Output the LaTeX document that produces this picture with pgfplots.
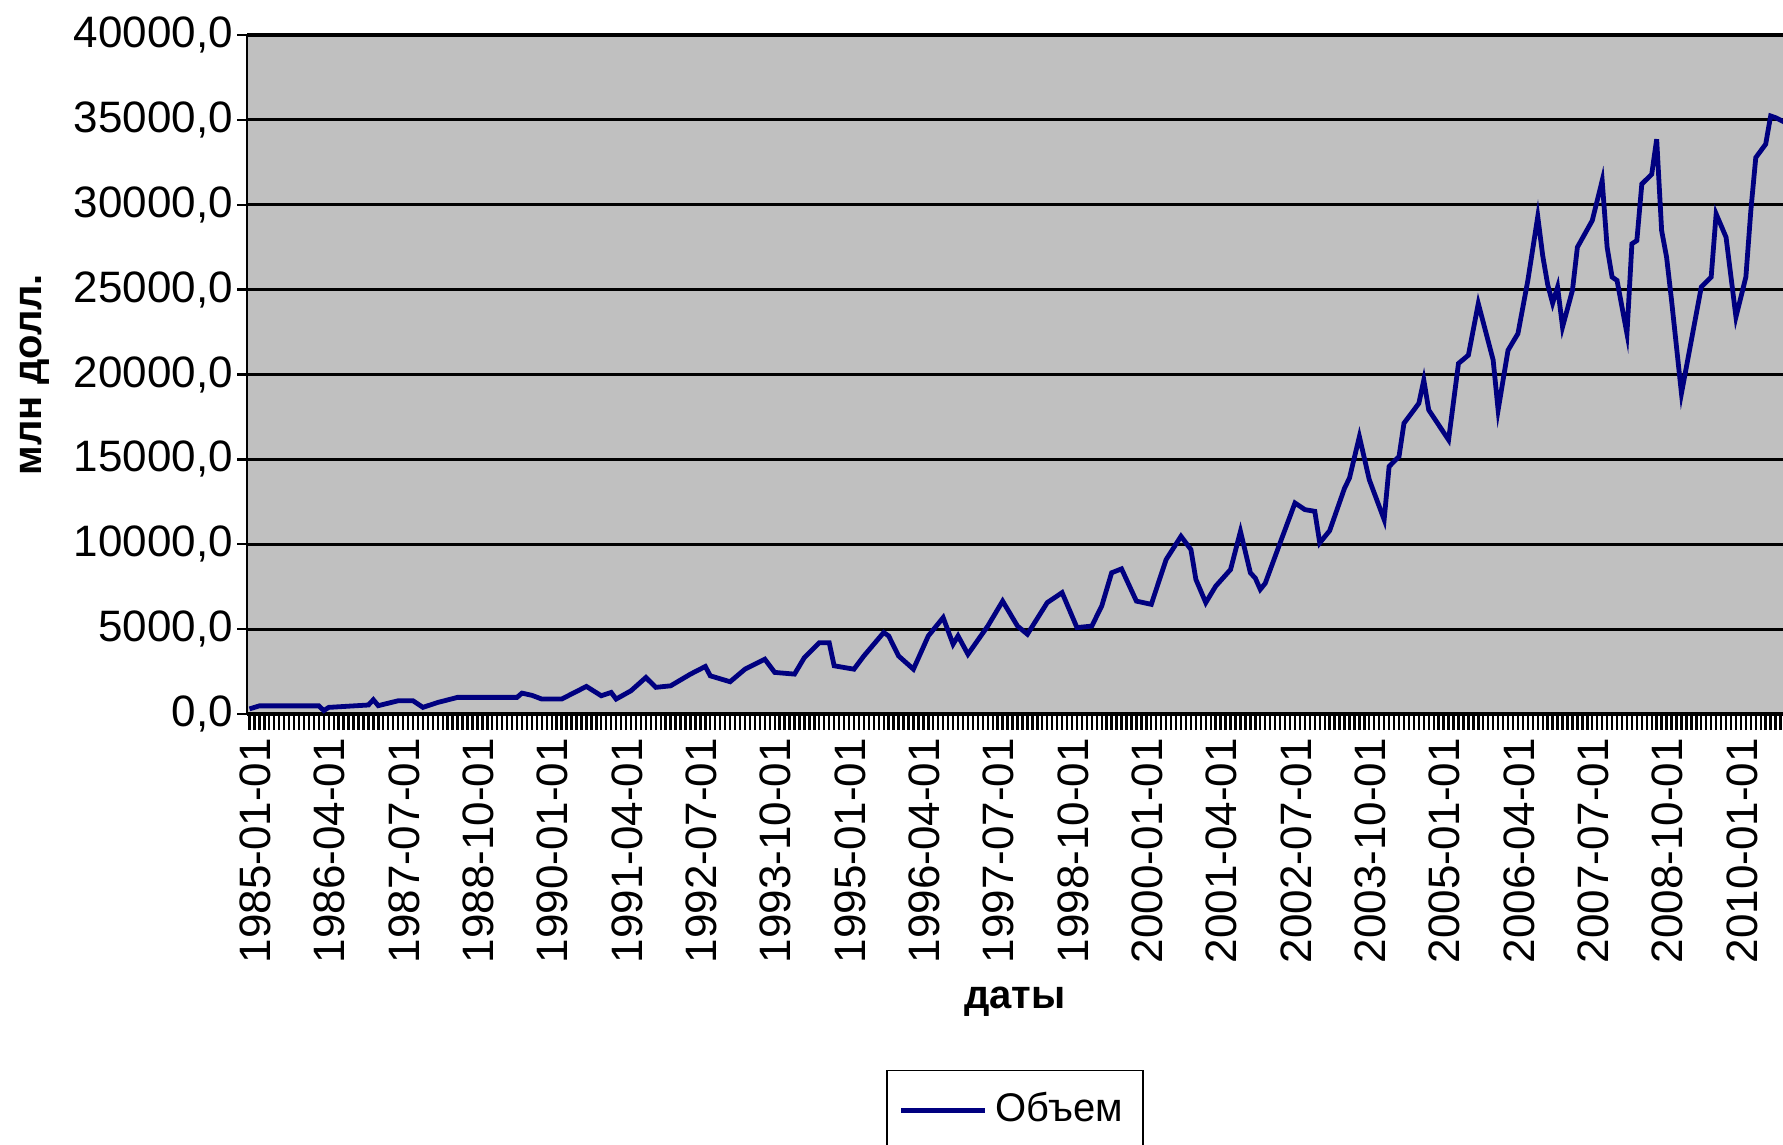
\documentclass[border=0pt]{standalone}
\usepackage{fontspec}
\setmainfont{Liberation Sans}
\usepackage{pgfplots}
\pgfplotsset{compat=1.18}
\definecolor{plotgray}{HTML}{C0C0C0}
\definecolor{navyline}{HTML}{000080}
\newcommand{\lbl}{\fontsize{11}{13}\selectfont}
\newcommand{\ttl}{\fontsize{10}{12}\selectfont}

% monthly volume, index 0 = 1985-01
\pgfplotstableread{
i v
0 300
2 480
14 480
15 200
16 390
24 530
25 840
26 490
30 780
33 780
35 390
38 680
42 980
54 980
55 1230
57 1100
59 880
63 880
68 1625
71 1075
73 1270
74 880
77 1370
80 2150
82 1570
85 1660
89 2350
92 2800
93 2250
97 1900
100 2640
104 3230
106 2450
110 2350
112 3330
115 4200
117 4200
118 2840
122 2640
124 3420
128 4800
129 4600
131 3420
134 2640
137 4600
140 5680
142 4110
143 4600
145 3520
149 5180
152 6650
155 5180
157 4700
161 6560
164 7150
167 5090
170 5180
172 6360
174 8320
176 8550
179 6650
182 6460
185 9100
188 10470
190 9690
191 7930
193 6560
195 7530
198 8510
200 10760
202 8320
203 8000
204 7340
205 7700
208 10080
211 12430
213 12040
215 11940
216 10080
218 10800
221 13300
222 13900
224 16340
226 13800
229 11450
230 14580
232 15170
233 17130
236 18300
237 19670
238 17910
242 16150
244 20650
246 21140
248 24180
251 20850
252 17910
254 21430
256 22410
258 25540
260 29300
261 27000
262 25300
263 24200
264 25150
265 22800
267 24960
268 27500
271 29070
273 31420
274 27500
275 25740
276 25540
278 22410
279 27700
280 27890
281 31220
283 31800
284 33860
285 28480
286 26910
287 24370
289 18890
290 20450
293 25150
295 25740
296 29460
298 28090
300 23390
302 25740
303 29650
304 32780
306 33570
307 35230
308 35130
310 34840
}\volume

\begin{document}
\begin{tikzpicture}
\begin{axis}[
    scale only axis,
    width=384pt, height=169.75pt,
    xmin=-0.5, xmax=309.5,
    ymin=0, ymax=40000,
    axis x line*=bottom, axis y line*=left,
    axis line style={black, line width=0.7pt, -},
    axis background/.style={fill=plotgray},
    ymajorgrids,
    grid style={black, line width=0.8pt},
    ytick={0,5000,...,40000},
    xtick={0,15,...,300},
    xticklabels={1985-01-01,1986-04-01,1987-07-01,1988-10-01,1990-01-01,1991-04-01,1992-07-01,1993-10-01,1995-01-01,1996-04-01,1997-07-01,1998-10-01,2000-01-01,2001-04-01,2002-07-01,2003-10-01,2005-01-01,2006-04-01,2007-07-01,2008-10-01,2010-01-01},
    minor xtick={0,1,...,309},
    tick align=outside,
    major tick length=2.5pt, minor tick length=4pt,
    tick style={black, line width=0.6pt},
    every tick label/.append style={font=\lbl},
    xticklabel style={rotate=90, anchor=east, yshift=-1.5pt},
    yticklabel style={xshift=2.5pt},
    scaled y ticks=false,
    yticklabel style={/pgf/number format/.cd, fixed, fixed zerofill, precision=1, use comma, 1000 sep={}},
    /pgf/number format/assume math mode=true,
    xlabel={\textbf{даты}},
    ylabel={\textbf{млн долл.}},
    label style={font=\ttl},
    every axis y label/.style={at={(axis description cs:-0.138,0.5)}, rotate=90, anchor=center},
    xlabel style={yshift=1pt},
    legend style={at={(0.5,-0.524)}, anchor=north, draw=black, fill=white,
        font=\ttl, inner xsep=3pt, inner ysep=3.5pt},
    legend image code/.code={\draw[#1] (0pt,0pt) -- (21pt,0pt);},
]
\addplot[navyline, line width=1.2pt, sharp plot, mark=none] table[x=i, y=v] {\volume};
\addlegendentry{Объем}
\end{axis}
\pgfresetboundingbox
\path (current axis.south west) ++(-61.75pt,178.5pt) rectangle ++(445.75pt,-286pt);
\end{tikzpicture}
\end{document}
